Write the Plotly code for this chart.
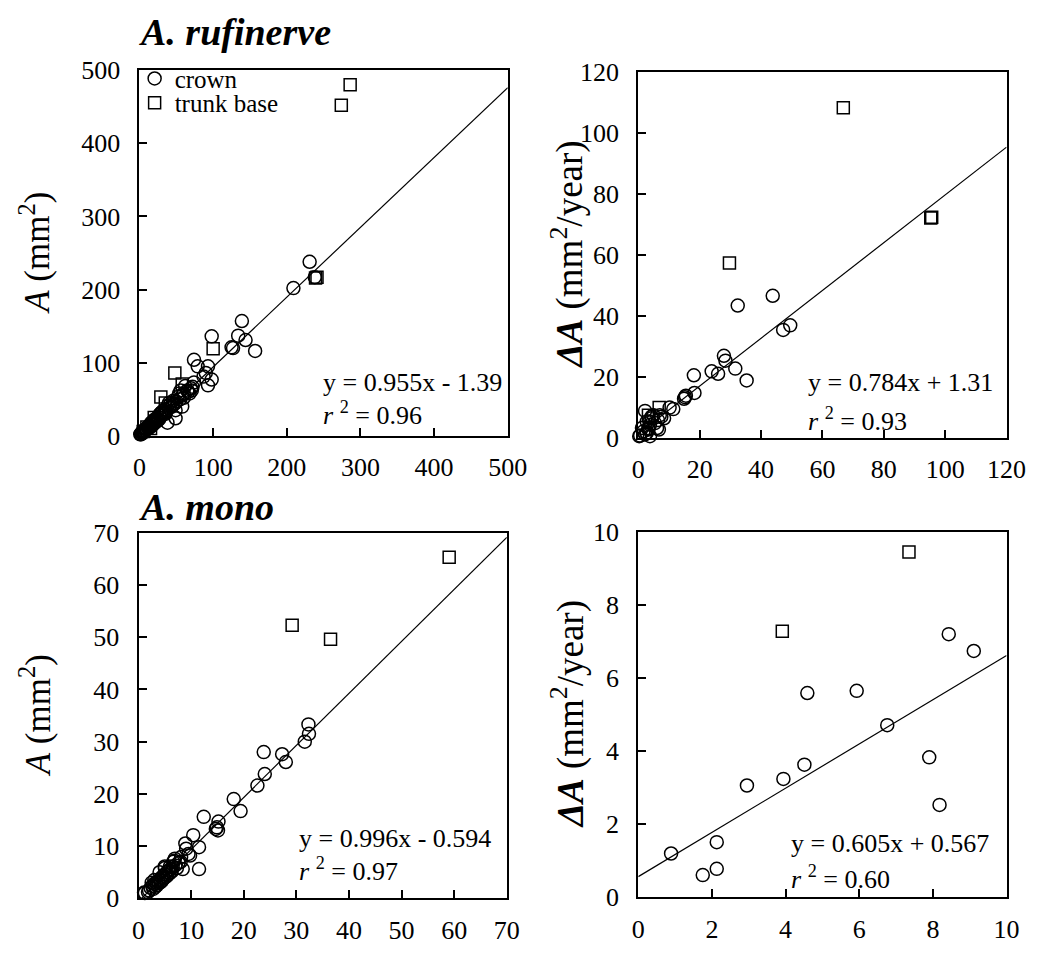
import plotly.graph_objects as go

W, H = 1048, 956
FONT = "Liberation Serif, Times New Roman, serif"

# ---------------- data ----------------
# A. rufinerve, A (mm2)
ruf_A_crown_x = [231, 209, 238, 139, 134, 144, 157, 127, 125, 98,
                 74, 79, 93, 90, 87, 98, 93, 74, 62, 49,
                 49, 38, 58, 71, 70, 66, 60, 58, 55, 52,
                 50, 48, 46, 44, 42, 40, 38, 36, 35, 33,
                 32, 30, 29, 28, 27, 26, 25, 24, 23, 22,
                 21, 20, 19, 18, 17, 16, 15, 14, 13, 12,
                 11, 10, 9, 8, 7, 6, 5, 4, 3, 2,
                 2, 1, 5, 8, 12, 16, 20, 25, 30, 35,
                 40, 45, 54, 60, 65, 68, 72, 56]
ruf_A_crown_y = [238, 202, 217, 157, 137, 131, 116, 120, 121, 136,
                 104, 95, 95, 86, 81, 77, 69, 73, 68, 35,
                 24, 18, 40, 62, 65, 60, 58, 55, 50, 53,
                 47, 44, 48, 40, 43, 38, 41, 33, 36, 30,
                 34, 28, 31, 25, 29, 22, 26, 20, 23, 19,
                 21, 17, 20, 15, 17, 13, 16, 12, 14, 10,
                 12, 9, 10, 7, 8, 6, 7, 5, 4, 3,
                 2, 2, 4, 9, 13, 18, 22, 24, 32, 30,
                 45, 42, 58, 52, 62, 58, 67, 62]
ruf_A_trunk_x = [286, 274, 239, 241, 100, 48, 29, 58, 10, 15, 20, 35, 5]
ruf_A_trunk_y = [480, 452, 216, 217, 119, 86, 53, 71, 12, 10, 25, 45, 6]

# A. rufinerve, dA (mm2/year)
ruf_dA_crown_x = [43.8, 32.4, 49.5, 47.2, 27.9, 28.4, 31.6, 35.3, 23.9, 26.0,
                  18.1, 18.3, 15.2, 14.9, 10.2, 11.4, 2.2, 8.4, 4.9, 6.1,
                  3.8, 2.75, 1.7, 0.6, 2.2, 3.3, 4.3, 7.0, 1.2, 5.4,
                  2.75, 3.8, 6.4, 7.5, 6.7, 3.3, 0.3, 3.6, 15.5, 4.3]
ruf_dA_crown_y = [46.6, 43.4, 36.9, 35.4, 26.9, 25.3, 22.7, 18.8, 21.8, 21.0,
                  20.5, 14.7, 13.3, 12.8, 9.9, 9.4, 8.8, 6.4, 7.4, 3.2,
                  4.3, 5.3, 2.1, 0.7, 1.1, 2.7, 6.4, 7.4, 3.2, 4.8,
                  1.6, 0.5, 5.8, 6.9, 2.7, 3.1, 0.5, 5.3, 13.8, 6.9]
ruf_dA_trunk_x = [66.8, 95.3, 95.6, 29.7, 6.8, 3.3]
ruf_dA_trunk_y = [108.3, 72.1, 72.4, 57.4, 9.9, 7.4]

# A. mono, A (mm2)
mono_A_crown_x = [32.3, 32.4, 31.6, 23.8, 27.3, 28.0, 24.0, 22.6, 18.1, 19.4,
                  12.4, 15.2, 14.9, 14.7, 15.1, 10.4, 11.5, 8.9, 9.05, 9.5,
                  9.8, 11.5, 8.4, 8.1, 6.9, 6.6, 6.0, 5.0, 1.05, 2.0,
                  2.3, 2.6, 2.8, 3.0, 3.2, 3.4, 3.5, 3.7, 3.9, 4.0,
                  4.2, 4.4, 4.5, 4.7, 4.8, 5.0, 5.2, 5.4, 5.5, 5.7,
                  5.9, 6.1, 6.3, 6.5, 7.0, 7.3, 7.6, 3.0, 4.0, 5.0,
                  2.5, 1.8, 1.2, 6.8, 8.0]
mono_A_crown_y = [33.3, 31.5, 30.0, 28.0, 27.6, 26.1, 23.8, 21.6, 19.0, 16.7,
                  15.6, 14.7, 13.6, 13.3, 13.0, 12.1, 9.8, 10.5, 9.5, 8.5,
                  8.2, 5.6, 5.6, 7.9, 7.6, 7.0, 6.1, 6.1, 1.1, 1.5,
                  2.0, 2.4, 1.8, 2.8, 2.2, 3.0, 2.5, 3.3, 2.9, 3.6,
                  3.1, 4.0, 3.4, 4.3, 3.8, 4.6, 4.1, 5.0, 4.4, 5.3,
                  4.8, 5.6, 5.1, 6.0, 6.3, 5.8, 6.8, 3.5, 5.0, 5.8,
                  3.0, 1.2, 1.0, 7.2, 7.0]
mono_A_trunk_x = [59.05, 29.2, 36.5]
mono_A_trunk_y = [65.3, 52.3, 49.6]

# A. mono, dA (mm2/year)
mono_dA_crown_x = [8.43, 9.11, 4.59, 5.93, 6.76, 7.90, 4.51, 3.94, 2.95, 8.18, 2.13, 0.89, 2.13, 1.75]
mono_dA_crown_y = [7.20, 6.74, 5.59, 5.65, 4.71, 3.83, 3.63, 3.24, 3.06, 2.53, 1.51, 1.20, 0.78, 0.61]
mono_dA_trunk_x = [7.35, 3.91]
mono_dA_trunk_y = [9.45, 7.28]

# regression lines (slope, intercept, r2) and axis maxima
fits = [(0.955, -1.39, "0.96"), (0.784, 1.31, "0.93"), (0.996, -0.594, "0.97"), (0.605, 0.567, "0.60")]
axis_max = [500, 120, 70, 10]
axis_dtick = [100, 20, 10, 2]

# ---------------- layout geometry (pixels) ----------------
panels = [  # x0, x1, ytop, ybottom
    (136, 514, 58, 435),
    (648, 1026, 60, 437),
    (135, 513, 535, 912),
    (648, 1026, 534, 911),
]

fig = go.Figure()

datasets = [
    (ruf_A_crown_x, ruf_A_crown_y, ruf_A_trunk_x, ruf_A_trunk_y),
    (ruf_dA_crown_x, ruf_dA_crown_y, ruf_dA_trunk_x, ruf_dA_trunk_y),
    (mono_A_crown_x, mono_A_crown_y, mono_A_trunk_x, mono_A_trunk_y),
    (mono_dA_crown_x, mono_dA_crown_y, mono_dA_trunk_x, mono_dA_trunk_y),
]

for i, (cx, cy, tx, ty) in enumerate(datasets):
    n = "" if i == 0 else str(i + 1)
    xa, ya = "x" + n, "y" + n
    m, b, r2 = fits[i]
    xmax = axis_max[i]
    x0 = max(0.0, -b / m)
    fig.add_trace(go.Scatter(x=[x0, xmax], y=[m * x0 + b, m * xmax + b], mode="lines",
                             line=dict(color="black", width=1.2), showlegend=False,
                             xaxis=xa, yaxis=ya, hoverinfo="skip"))
    fig.add_trace(go.Scatter(x=cx, y=cy, mode="markers", name="crown", legend="legend",
                             marker=dict(symbol="circle-open", size=13, color="black",
                                         line=dict(width=1.5, color="black")),
                             showlegend=(i == 0), cliponaxis=False, xaxis=xa, yaxis=ya))
    fig.add_trace(go.Scatter(x=tx, y=ty, mode="markers", name="trunk base", legend="legend2",
                             marker=dict(symbol="square-open", size=12, color="black",
                                         line=dict(width=1.5, color="black")),
                             showlegend=(i == 0), cliponaxis=False, xaxis=xa, yaxis=ya))

leg_common = dict(xanchor="left", yanchor="top", bgcolor="rgba(0,0,0,0)", borderwidth=0,
                  font=dict(family=FONT, size=25, color="black"), itemwidth=30)
layout = dict(
    width=W, height=H,
    margin=dict(l=0, r=0, t=0, b=0),
    paper_bgcolor="white", plot_bgcolor="white",
    font=dict(family=FONT, size=26, color="black"),
    showlegend=True,
    legend=dict(x=131 / W, y=1 - 43 / H, **leg_common),
    legend2=dict(x=131 / W, y=1 - 68 / H, **leg_common),
)

for i, (px0, px1, pyt, pyb) in enumerate(panels):
    n = "" if i == 0 else str(i + 1)
    ax_common = dict(showline=True, linewidth=2, linecolor="black", mirror=True,
                     showgrid=False, zeroline=False, ticks="inside", ticklen=8,
                     tickwidth=1.5, tickcolor="black",
                     tickfont=dict(family=FONT, size=26, color="black"),
                     range=[0, axis_max[i]], dtick=axis_dtick[i], tick0=0)
    layout["xaxis" + n] = dict(domain=[px0 / W, px1 / W], anchor="y" + n,
                               ticklabelstandoff=7, **ax_common)
    layout["yaxis" + n] = dict(domain=[1 - pyb / H, 1 - pyt / H], anchor="x" + n,
                               ticklabelstandoff=12, **ax_common)

fig.update_layout(**layout)

ann = []
# panel titles
ann.append(dict(text="<b><i>A. rufinerve</i></b>", x=133 / W, y=1 - 19 / H, xref="paper", yref="paper",
                xanchor="left", yanchor="middle", showarrow=False, font=dict(family=FONT, size=38)))
ann.append(dict(text="<b><i>A. mono</i></b>", x=133 / W, y=1 - 508 / H, xref="paper", yref="paper",
                xanchor="left", yanchor="middle", showarrow=False, font=dict(family=FONT, size=38)))
# y axis titles
ytitles = [("<i>A</i> (mm<sup>2</sup>)", 29, 246, 35),
           ("<b><i>ΔA</i></b> (mm<sup>2</sup>/year)", 576, 248, 37),
           ("<i>A</i> (mm<sup>2</sup>)", 29, 723, 35),
           ("<b><i>ΔA</i></b> (mm<sup>2</sup>/year)", 576, 722, 37)]
for t, xx, yy, fs in ytitles:
    ann.append(dict(text=t, x=xx / W, y=1 - yy / H, xref="paper", yref="paper", textangle=-90,
                    xanchor="center", yanchor="middle", showarrow=False, font=dict(family=FONT, size=fs)))
# equations
eq_pos = [(322, 380, 412), (820, 380, 418), (298, 850, 882), (803, 855, 890)]
for i, (ex, ey1, ey2) in enumerate(eq_pos):
    m, b, r2 = fits[i]
    sign = "+" if b >= 0 else "-"
    ann.append(dict(text=f"y = {m}x {sign} {abs(b)}", x=ex / W, y=1 - ey1 / H, xref="paper", yref="paper",
                    xanchor="left", yanchor="middle", showarrow=False, font=dict(family=FONT, size=26)))
    ann.append(dict(text=f"<i>r</i> <sup>2</sup> = {r2}", x=ex / W, y=1 - ey2 / H, xref="paper", yref="paper",
                    xanchor="left", yanchor="middle", showarrow=False, font=dict(family=FONT, size=26)))
fig.update_layout(annotations=ann)

fig.write_html("out.html")
